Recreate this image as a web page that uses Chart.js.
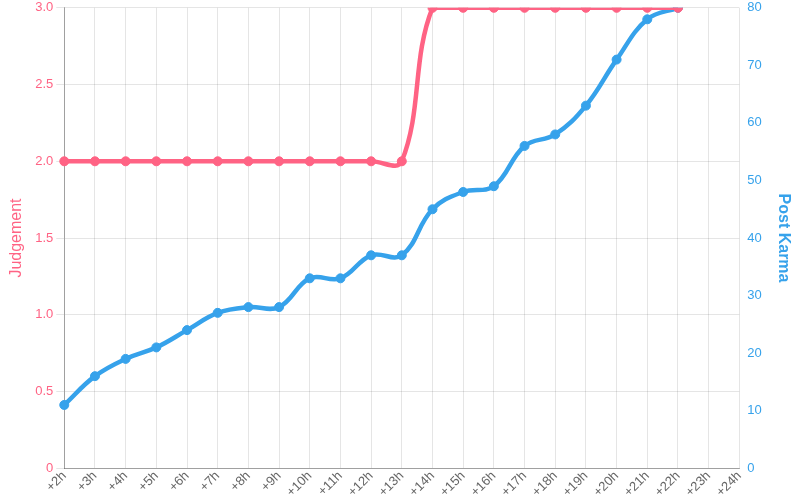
<!DOCTYPE html>
<html>
<head>
<meta charset="utf-8">
<script src="https://cdn.jsdelivr.net/npm/chart.js@4"></script>
<style>
    html, body { margin: 0; padding: 0; background: #fff; overflow: hidden; }
    #wrap { width: 800px; height: 508px; margin-top: -8px; }
</style>
</head>
<body>
<div id="wrap"><canvas id="karmaChart"></canvas></div>
<script>
    const hours = ['+2h', '+3h', '+4h', '+5h', '+6h', '+7h', '+8h', '+9h', '+10h', '+11h', '+12h',
        '+13h', '+14h', '+15h', '+16h', '+17h', '+18h', '+19h', '+20h', '+21h', '+22h', '+23h', '+24h'];
    const judgement = [2, 2, 2, 2, 2, 2, 2, 2, 2, 2, 2, 2, 3, 3, 3, 3, 3, 3, 3, 3, 3, null, null];
    const postKarma = [11, 16, 19, 21, 24, 27, 28, 28, 33, 33, 37, 37, 45, 48, 49, 56, 58, 63, 71, 78, 80, null, null];

    const pink = 'rgb(255, 99, 132)';
    const blue = 'rgb(54, 162, 235)';

    Chart.defaults.font.family = '"Liberation Sans", Arial, sans-serif';
    Chart.defaults.font.size = 13;

    const data = {
        labels: hours,
        datasets: [{
            label: 'Judgement',
            data: judgement,
            yAxisID: 'y',
            borderColor: pink,
            backgroundColor: pink,
            borderWidth: 4.5,
            pointRadius: 4.5,
            pointBorderWidth: 1,
            tension: 0.4,
            fill: false
        }, {
            label: 'Post Karma',
            data: postKarma,
            yAxisID: 'y1',
            borderColor: blue,
            backgroundColor: blue,
            borderWidth: 4.5,
            pointRadius: 4.5,
            pointBorderWidth: 1,
            tension: 0.4,
            fill: false
        }]
    };

    const config = {
        type: 'line',
        data: data,
        options: {
            responsive: true,
            maintainAspectRatio: false,
            animation: false,
            layout: { padding: { top: 0, right: 3, left: 0, bottom: 0 } },
            plugins: {
                legend: { display: false },
                tooltip: { enabled: false }
            },
            scales: {
                x: {
                    grid: { color: 'rgba(0,0,0,0.1)', drawTicks: false },
                    border: { color: 'rgba(0,0,0,0.3)' },
                    ticks: { color: '#666', maxRotation: 45, minRotation: 45, autoSkip: false, padding: 0 }
                },
                y: {
                    position: 'left',
                    min: 0,
                    max: 3,
                    ticks: { stepSize: 0.5, color: pink, padding: 3, callback: v => v === 0 ? '0' : v.toFixed(1) },
                    grid: { color: 'rgba(0,0,0,0.1)', tickLength: 8 },
                    border: { color: 'rgba(0,0,0,0.3)' },
                    title: { display: true, text: 'Judgement', color: pink, font: { size: 16 }, padding: { top: 7, bottom: 6 } }
                },
                y1: {
                    position: 'right',
                    min: 0,
                    max: 80,
                    ticks: { stepSize: 10, color: blue, padding: 8 },
                    grid: { drawOnChartArea: false, drawTicks: false },
                    border: { display: false },
                    title: { display: true, text: 'Post Karma', color: blue, font: { size: 16, weight: 'bold' }, padding: { top: 4, bottom: 4 } }
                }
            }
        }
    };

    const karmaChart = new Chart(document.getElementById('karmaChart'), config);
</script>
</body>
</html>
